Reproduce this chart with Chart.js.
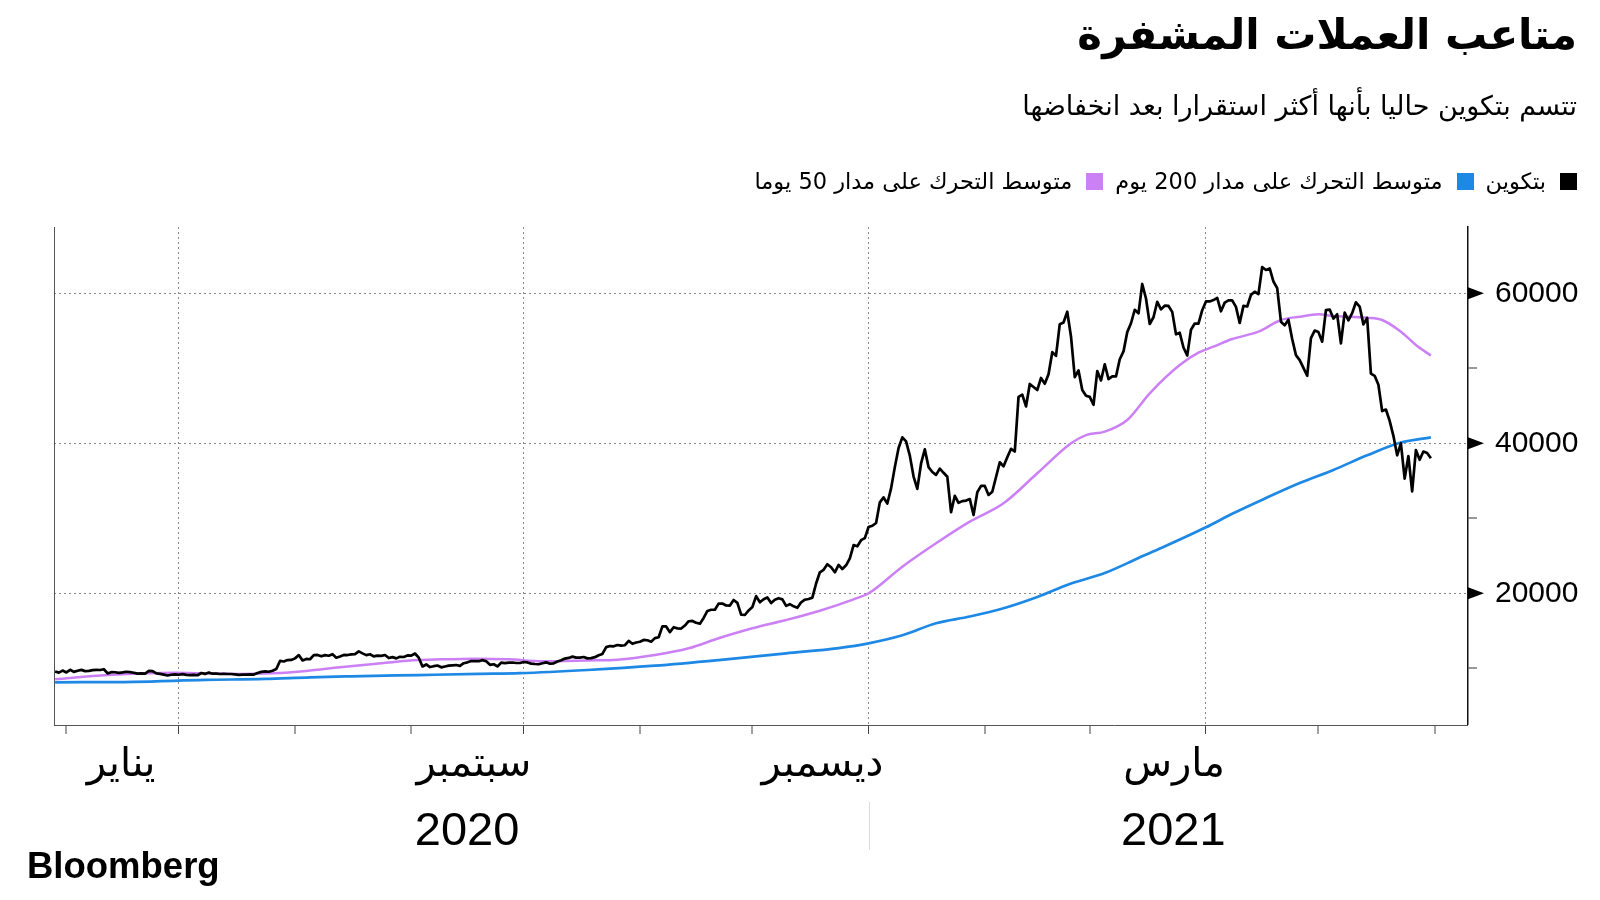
<!DOCTYPE html>
<html>
<head>
<meta charset="utf-8">
<script src="https://cdn.jsdelivr.net/npm/chart.js@4.4.0/dist/chart.umd.min.js"></script>
<style>
html,body{margin:0;padding:0;background:#fff;width:1600px;height:900px;overflow:hidden;}
#wrap{position:relative;width:1600px;height:900px;}
canvas{position:absolute;left:0;top:0;}
.t{position:absolute;right:23px;direction:rtl;color:#000;font-family:"DejaVu Sans",sans-serif;white-space:nowrap;}
#title{top:10px;font-size:42px;font-weight:bold;}
#sub{top:90px;font-size:27px;}
#legend{top:168px;font-size:22.5px;display:flex;align-items:center;}
.item{display:flex;align-items:center;margin-left:12px;}
.sw{display:inline-block;width:17px;height:17px;margin-left:14px;}
#bb{position:absolute;left:27px;top:845px;font-family:"Liberation Sans",Arial,sans-serif;font-weight:bold;font-size:36.5px;color:#000;}
</style>
</head>
<body>
<div id="wrap">
<canvas id="c" width="1600" height="900"></canvas>
<div class="t" id="title">متاعب العملات المشفرة</div>
<div class="t" id="sub">تتسم بتكوين حاليا بأنها أكثر استقرارا بعد انخفاضها</div>
<div class="t" id="legend">
  <div class="item"><span class="sw" style="background:#000"></span><span>بتكوين</span></div>
  <div class="item"><span class="sw" style="background:#1e88e5"></span><span>متوسط التحرك على مدار 200 يوم</span></div>
  <div class="item"><span class="sw" style="background:#cc80f5"></span><span>متوسط التحرك على مدار 50 يوما</span></div>
</div>
<div id="bb">Bloomberg</div>
</div>
<script>
// ---- axis values (day 0 = first tick) ----
const monthStartDays = [0,30,61,92,122,153,183,214,245,273,304,334,365];
const quarterDays = [30,122,214,304];
const monthLabels = ['يناير','سبتمبر','ديسمبر','مارس'];
const monthLabelDays = [14.6,108.7,201.7,295.5];
const yearLabels = ['2020','2021'];
const yearLabelDays = [106.9,295.3];
const yTicks = [10000,20000,30000,40000,50000,60000];
const yLabeled = [20000,40000,60000];

// ---- series: Bitcoin daily, starting at day -3 ----
const priceStartDay = -3;
const btcPrice = [
9575,9427,9697,9448,
9800,9518,9666,9790,9621,9666,9746,9783,9770,9877,9321,9480,9475,9386,9450,9538,9480,9411,9288,9332,9303,9648,9629,9313,9264,9162,9045,9143,9190,9137,
9228,9123,9087,9132,9073,9375,9252,9428,9277,9278,9240,9277,9243,9243,9193,9132,9151,9159,9185,9164,9374,9525,9581,9536,9677,9905,10990,10912,11100,11111,11323,
11759,11053,11246,11205,11747,11779,11601,11754,11675,11878,11410,11584,11784,11768,11865,11892,12254,11991,11758,11878,11592,11681,11664,11774,11366,11488,11323,11542,11506,11711,11680,
11970,11414,10245,10511,10169,10280,10369,10131,10242,10363,10400,10443,10323,10680,10796,10974,10948,10944,11094,10938,10462,10538,10246,10760,10692,10750,10775,10709,
10709,10844,10784,
10620,10570,10542,10666,10793,10604,10668,10915,11064,11296,11384,11555,11425,11430,11506,11323,11358,11483,11742,11917,12823,12965,12931,13108,13031,13075,13654,13271,13437,13546,13781,
13737,13550,14023,14146,15590,15579,14818,15475,15328,15297,15701,16276,16317,16068,15955,16716,17645,17804,17817,18621,18642,18370,18364,19107,18732,17150,17108,17718,18177,19625,
18802,19201,19445,18699,19154,19345,19191,18321,18553,18264,18058,18803,19142,19246,19417,21310,22805,23137,23869,23477,22803,23783,23241,23735,24664,26437,26272,27084,27362,28840,29001,
29374,32127,32782,31971,33992,36824,39371,40797,40254,38356,35566,33922,37316,39187,36825,36178,35792,36630,36069,35547,30825,33005,32067,32289,32366,32569,30432,33466,34316,34318,33114,
33537,35510,37472,36926,38144,39266,38903,46196,46481,44919,47910,47505,47105,48717,47945,49199,52149,51679,55888,56099,57539,54207,48824,49705,47093,46339,46188,45137,
49631,48378,50538,48561,48927,48912,51206,52246,54824,56008,57805,57332,61243,59302,55907,56804,58870,57858,58346,58313,57523,54529,54738,52774,51704,55137,55973,55950,57750,58917,58918,
59095,59384,57603,58758,59057,
59057,58192,56048,58323,58245,59793,60204,59893,63503,63109,63314,61572,60683,56216,55724,56473,53906,51762,51093,50050,49004,54021,55033,54824,53555,57750,
57828,56631,57200,53333,57424,56396,57356,58803,58232,55859,56704,
49300,49000,47800,44300,44500,43000,41000,38400,40000,35300,38300,33600,39100,37800,38900,38700,38000
];

// ---- series: 200-day moving average ----
const ma200Days = [-3,18,37,53,65,76,94,110,121,139,157,174,192,206,214,223,232,241,250,259,268,277,286,291,304,311,320,329,338,347,356,364];
const ma200Values = [8130,8200,8450,8580,8800,8930,9100,9250,9350,9770,10350,11100,12000,12700,13330,14400,16000,16900,18000,19500,21300,22700,24700,25800,28800,30600,32700,34700,36450,38400,40100,40800];

// ---- series: 50-day moving average ----
const ma50Days = [-3,11,29,46,55,64,73,82,91,100,109,118,127,139,147,157,166,174,183,192,201,210,214,223,232,241,250,259,268,272,277,283,289,297,302,306,311,318,324,329,334,338,342,347,351,356,360,364];
const ma50Values = [8530,9100,9420,9240,9330,9640,10130,10570,11020,11200,11290,11200,10950,11050,11150,11770,12670,14000,15330,16440,17680,19200,20000,23550,26670,29550,32000,36000,40000,41100,41550,43110,46670,50440,52080,52880,53900,54880,56440,56880,57200,56970,56880,56750,56440,54880,53110,51700];

const priceData = btcPrice.map((v,i) => ({x: priceStartDay + i, y: v}));
const ma200Data = ma200Days.map((d,i) => ({x: d, y: ma200Values[i]}));
const ma50Data = ma50Days.map((d,i) => ({x: d, y: ma50Values[i]}));

const GRID = '#8a8a8a';
const CLEAR = 'rgba(0,0,0,0)';

const decorations = {
  id: 'decorations',
  afterDraw(chart) {
    const {ctx, chartArea, scales} = chart;
    const x = scales.x, y = scales.y;
    ctx.save();
    const lx = Math.round(chartArea.left) + 0.5;
    ctx.strokeStyle = '#555';
    ctx.lineWidth = 1;
    ctx.beginPath();
    ctx.moveTo(lx, chartArea.top);
    ctx.lineTo(lx, chartArea.bottom);
    ctx.stroke();
    ctx.fillStyle = '#000';
    yLabeled.forEach(v => {
      const py = y.getPixelForValue(v);
      ctx.beginPath();
      ctx.moveTo(y.left, py - 6);
      ctx.lineTo(y.left + 16, py);
      ctx.lineTo(y.left, py + 6);
      ctx.closePath();
      ctx.fill();
    });
    ctx.font = '47px "Liberation Sans", Arial, sans-serif';
    ctx.textAlign = 'center';
    ctx.textBaseline = 'alphabetic';
    yearLabels.forEach((t, i) => ctx.fillText(t, x.getPixelForValue(yearLabelDays[i]), 845));
    const sx = Math.round(x.getPixelForValue(214)) + 0.5;
    ctx.strokeStyle = '#dcdcdc';
    ctx.beginPath();
    ctx.moveTo(sx, 802);
    ctx.lineTo(sx, 850);
    ctx.stroke();
    ctx.restore();
  }
};

new Chart(document.getElementById('c'), {
  type: 'line',
  data: {
    datasets: [
      {label: 'بتكوين', data: priceData, borderColor: '#000', borderWidth: 2.7, pointRadius: 0, tension: 0, borderJoinStyle: 'round'},
      {label: 'متوسط التحرك على مدار 50 يوما', data: ma50Data, borderColor: '#cc80f5', borderWidth: 2.5, pointRadius: 0, cubicInterpolationMode: 'monotone'},
      {label: 'متوسط التحرك على مدار 200 يوم', data: ma200Data, borderColor: '#1e88e5', borderWidth: 2.7, pointRadius: 0, cubicInterpolationMode: 'monotone'}
    ]
  },
  options: {
    responsive: false,
    animation: false,
    devicePixelRatio: 1,
    layout: {padding: {left: 54, top: 227, right: 0, bottom: 0}},
    plugins: {legend: {display: false}, title: {display: false}, tooltip: {enabled: false}},
    scales: {
      x: {
        type: 'linear',
        min: -3.3,
        max: 373.9,
        afterBuildTicks: (s) => {
          const vals = monthStartDays.concat(monthLabelDays).sort((a, b) => a - b);
          s.ticks = vals.map(v => ({value: v}));
        },
        afterFit: (s) => { s.height = 175; },
        ticks: {
          autoSkip: false,
          maxRotation: 0,
          padding: 8,
          color: '#000',
          font: {family: '"DejaVu Sans", sans-serif', size: 40},
          callback: (v) => { const i = monthLabelDays.indexOf(v); return i >= 0 ? monthLabels[i] : ''; }
        },
        grid: {
          drawOnChartArea: true,
          color: (c) => quarterDays.includes(c.tick && c.tick.value) ? GRID : CLEAR,
          lineWidth: (c) => quarterDays.includes(c.tick && c.tick.value) ? 1 : 0,
          tickColor: '#444',
          tickWidth: (c) => monthStartDays.includes(c.tick && c.tick.value) ? 1 : 0,
          tickLength: 9
        },
        border: {display: true, color: '#555', width: 1, dash: [2, 3]}
      },
      y: {
        type: 'linear',
        position: 'right',
        min: 2440,
        max: 68840,
        afterBuildTicks: (s) => { s.ticks = yTicks.map(v => ({value: v})); },
        afterFit: (s) => { s.width = 132; },
        ticks: {
          padding: 18,
          color: '#000',
          font: {family: '"Liberation Sans", Arial, sans-serif', size: 30},
          callback: (v) => yLabeled.includes(v) ? String(v) : ''
        },
        grid: {
          color: (c) => yLabeled.includes(c.tick && c.tick.value) ? GRID : CLEAR,
          lineWidth: (c) => yLabeled.includes(c.tick && c.tick.value) ? 1 : 0,
          tickColor: '#333',
          tickWidth: (c) => yLabeled.includes(c.tick && c.tick.value) ? 0 : 1,
          tickLength: 9
        },
        border: {display: true, color: '#111', width: 1.5, dash: [2, 3]}
      }
    }
  },
  plugins: [decorations]
});
</script>
</body>
</html>
